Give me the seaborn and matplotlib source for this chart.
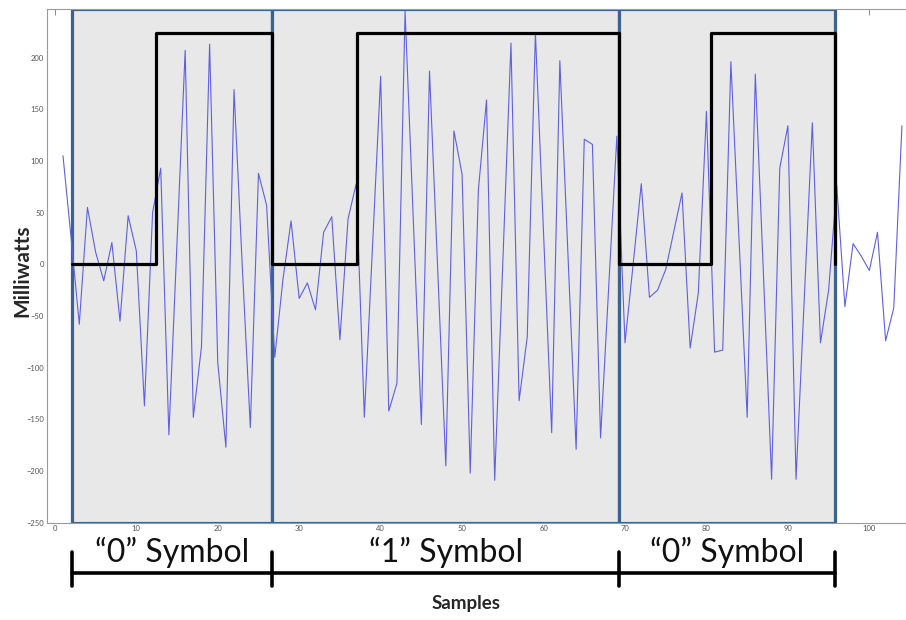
import numpy as np
import pandas as pd
import matplotlib
matplotlib.use("Agg")
import matplotlib.pyplot as plt
import matplotlib.transforms as mtransforms
import seaborn as sns

# received power, one value per sample (samples 1..104)
power = [105, 25, -58, 55, 12, -16, 21, -55, 47, 13,
         -137, 50, 93, -165, 21, 207, -148, -80, 213, -95,
         -177, 169, 0, -158, 88, 57, -90, -15, 42, -33,
         -18, -44, 31, 46, -73, 44, 78, -148, 17, 182,
         -142, -115, 245, 45, -155, 187, -4, -195, 129, 87,
         -202, 72, 159, -209, 2, 214, -132, -70, 224, 30,
         -163, 197, 9, -179, 121, 116, -168, -22, 124, -76,
         0, 78, -32, -25, -5, 32, 69, -81, -28, 148,
         -85, -83, 196, 24, -148, 184, -10, -208, 93, 134,
         -208, -35, 137, -76, -25, 76, -41, 20, 8, -6,
         31, -74, -42, 134]
samples = np.arange(1, len(power) + 1)

# square wave (bit clock) breakpoints
step_x = [2.1, 12.4, 26.7, 37.1, 69.3, 80.5, 95.8]
step_y = [0, 224, 0, 224, 0, 224, 0]

# symbol boundaries and names
symbol_edges = [2.1, 26.7, 69.3, 95.8]
symbol_labels = ["\u201c0\u201d Symbol", "\u201c1\u201d Symbol", "\u201c0\u201d Symbol"]

df = pd.DataFrame({"Samples": samples, "Milliwatts": power})
steps = pd.DataFrame({"x": step_x, "y": step_y})

sns.set_style("white")
plt.rcParams['font.family'] = ['Lato', 'DejaVu Sans']

fig = plt.figure(figsize=(9.06, 6.2), dpi=100)
ax = fig.add_axes([46.7 / 906, 1 - 522.7 / 620, 1 - 46.7 / 906, (522.7 - 9) / 620])

# shaded symbol boxes
for a, b in zip(symbol_edges[:-1], symbol_edges[1:]):
    ax.axvspan(a, b, facecolor="#e8e8e8", edgecolor="#3c6290", lw=2.3, zorder=1)

sns.lineplot(data=df, x="Samples", y="Milliwatts", color="#5f5fe2", lw=0.8,
             ax=ax, zorder=3)
sns.lineplot(data=steps, x="x", y="y", sort=False, drawstyle="steps-post",
             color="black", lw=2.3, ax=ax, zorder=4)

ax.set_xlim(-1, 104.5)
ax.set_ylim(-250, 247)
ax.set_xticks(range(0, 101, 10))
ax.set_yticks(range(-250, 201, 50))
ax.tick_params(direction="in", length=4, width=0.6, labelsize=5.5,
               labelcolor="#555555", color="#777777", top=True, pad=2)
for s in ["left", "bottom", "top"]:
    ax.spines[s].set_color("#9a9a9a")
    ax.spines[s].set_linewidth(0.8)
ax.spines["right"].set_visible(False)
ax.set_xlabel("")
ax.set_ylabel("")

fig.text(22 / 906, 1 - 271 / 620, "Milliwatts", rotation=90, fontsize=15,
         fontweight="bold", ha="center", va="center")
fig.text(466 / 906, 1 - 604 / 620, "Samples", fontsize=13.5,
         fontweight="bold", ha="center", va="center")

# symbol brackets below the axes
trans = mtransforms.blended_transform_factory(ax.transData, fig.transFigure)
y_bar = 1 - 573 / 620
ax.plot([symbol_edges[0], symbol_edges[-1]], [y_bar, y_bar], color="black",
        lw=2.6, transform=trans, clip_on=False)
for e in symbol_edges:
    ax.plot([e, e], [1 - 552 / 620, 1 - 586 / 620], color="black", lw=2.6,
            transform=trans, clip_on=False)
for a, b, lab in zip(symbol_edges[:-1], symbol_edges[1:], symbol_labels):
    ax.text((a + b) / 2, 1 - 552 / 620, lab, transform=trans, ha="center",
            va="center", fontsize=23, color="#111111")

fig.savefig("out.png", dpi=100)
